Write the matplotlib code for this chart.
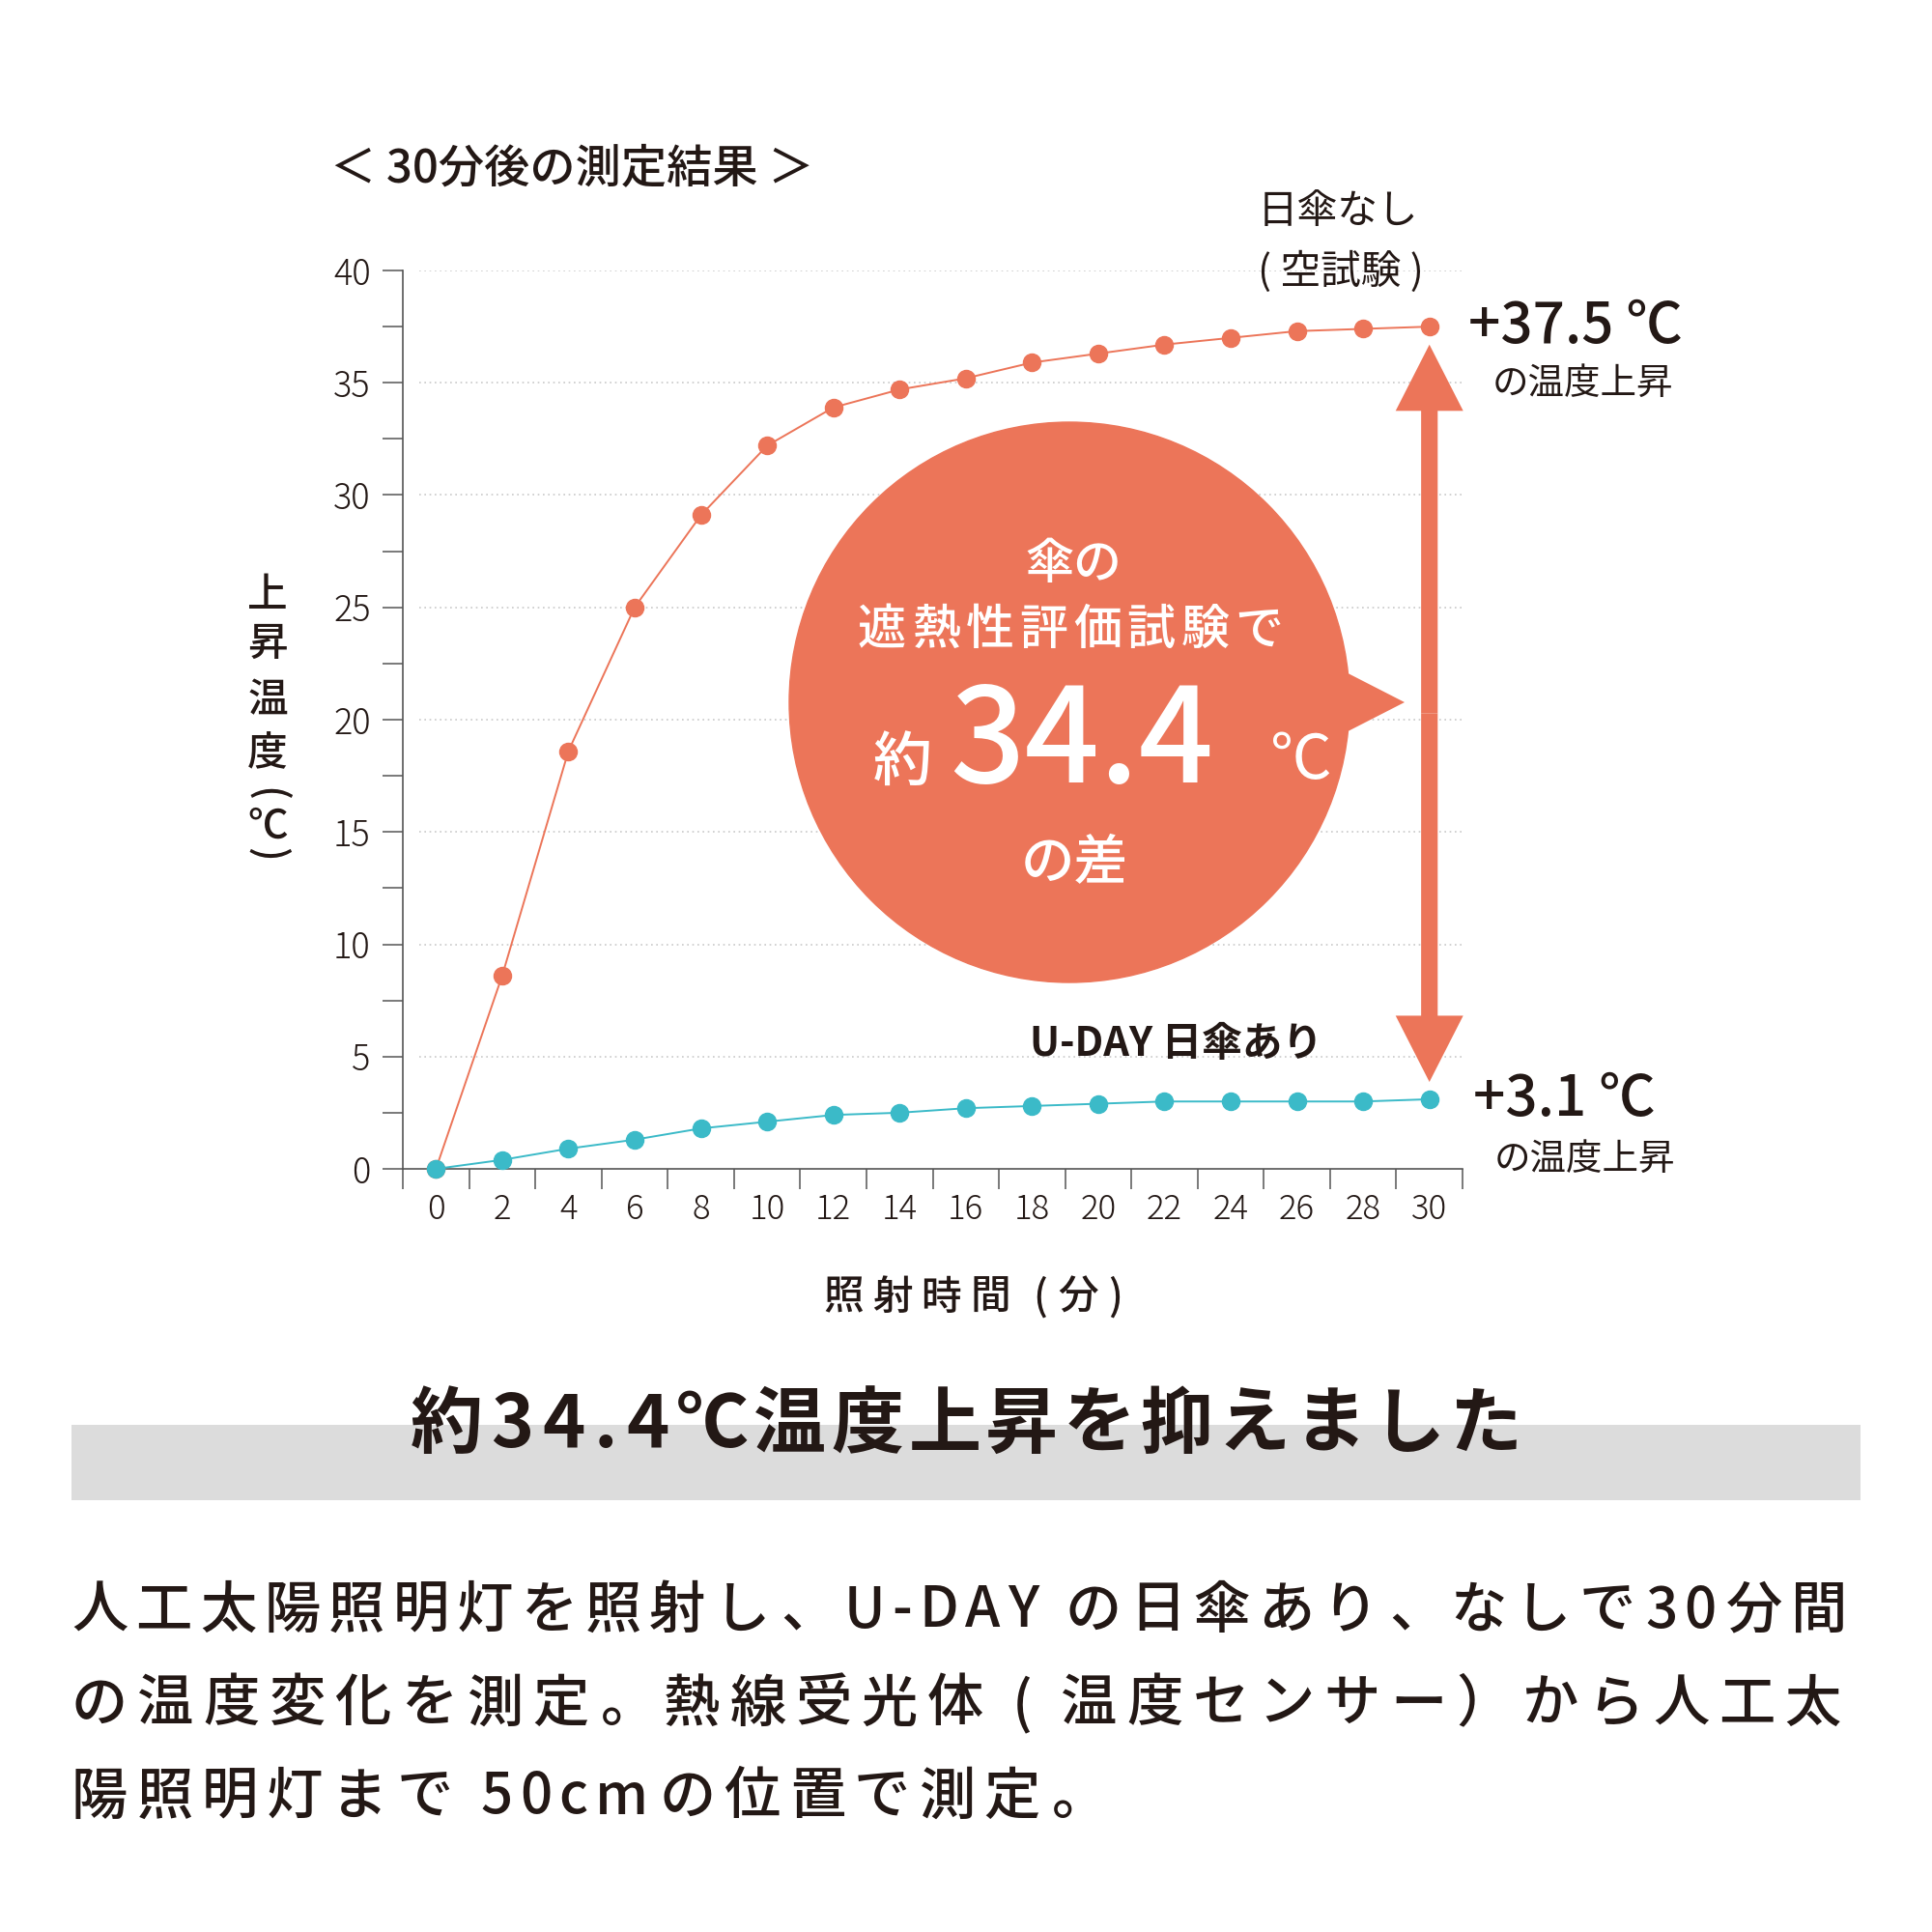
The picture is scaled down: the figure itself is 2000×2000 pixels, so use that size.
import numpy as np
import matplotlib
matplotlib.use("Agg")
import matplotlib.pyplot as plt
from matplotlib.patches import Circle, Polygon, FancyArrow, Rectangle

plt.rcParams['font.family'] = ['Noto Sans CJK JP', 'DejaVu Sans']

# Data
minutes = [0, 2, 4, 6, 8, 10, 12, 14, 16, 18, 20, 22, 24, 26, 28, 30]
no_umbrella = [0, 8.6, 18.6, 25.0, 29.1, 32.2, 33.9, 34.7, 35.2, 35.9,
               36.3, 36.7, 37.0, 37.3, 37.4, 37.5]
with_umbrella = [0, 0.4, 0.9, 1.3, 1.8, 2.1, 2.4, 2.5, 2.7, 2.8,
                 2.9, 3.0, 3.0, 3.0, 3.0, 3.1]
y_ticks = [0, 5, 10, 15, 20, 25, 30, 35, 40]
x_ticks = minutes

RED = "#EC7559"
TEAL = "#3BBAC8"
INK = "#231815"
AXIS = "#555555"

W = H = 2000
fig = plt.figure(figsize=(20, 20), dpi=100)
fig.patch.set_facecolor("white")


def fx(px):
    return px / W


def fy(py):
    return 1 - py / H


def is_wide(ch):
    return ord(ch) > 0x2000


def spaced(x0, y, s, size, track=0.0, width=None, align="left",
           ascii_k=0.3, color=INK, **kw):
    # place characters one by one so that letter spacing can be set
    r = fig.canvas.get_renderer()
    em = size * 100 / 72
    items = []
    for ch in s:
        if ch == " ":
            items.append((None, em * 0.25, ch))
            continue
        t = fig.text(0, fy(y), ch, fontsize=size, va="center",
                     ha="center" if is_wide(ch) else "left", color=color, **kw)
        if is_wide(ch):
            w = em
        else:
            w = t.get_window_extent(r).width + em * 0.08
        items.append((t, w, ch))
    # gap weights: narrower spacing between latin characters
    k = []
    for a, b in zip(s[:-1], s[1:]):
        k.append(ascii_k if not (is_wide(a) or is_wide(b)) else 1.0)
    tot = sum(w for _, w, _ in items)
    if width is not None:
        track = (width - tot) / sum(k)
    total = tot + track * sum(k)
    if align == "center":
        x0 = x0 - total / 2
    cx = x0
    for i, (t, w, ch) in enumerate(items):
        if t is not None:
            if is_wide(ch):
                if ch in "、。":
                    t.set_ha("left")
                    t.set_x(fx(cx + em * 0.05))
                else:
                    t.set_x(fx(cx + w / 2))
            else:
                t.set_x(fx(cx + em * 0.04))
        cx += w + (track * k[i] if i < len(k) else 0)
    return track


# Chart
ax = fig.add_axes([fx(417), fy(1210), (1514 - 417) / W, (1210 - 280) / H])
ax.set_xlim(-1, 31)
ax.set_ylim(0, 40)

ax.hlines(y_ticks[1:], -0.5, 31, colors="#c9c9c9", linestyles=(0, (1, 2.2)),
          lw=1.2, zorder=1)

ax.plot(minutes, no_umbrella, color=RED, lw=1.4, marker="o", ms=13,
        clip_on=False, zorder=3)
ax.plot(minutes, with_umbrella, color=TEAL, lw=1.4, marker="o", ms=13,
        clip_on=False, zorder=4)

for side in ["top", "right"]:
    ax.spines[side].set_visible(False)
for side in ["left", "bottom"]:
    ax.spines[side].set_color(AXIS)
    ax.spines[side].set_linewidth(1.2)

ax.set_xticks(x_ticks)
ax.set_xticks(range(-1, 32, 2), minor=True)
ax.set_yticks(y_ticks)
ax.set_yticks(np.arange(2.5, 40, 5), minor=True)
ax.tick_params(axis="x", which="major", length=0, pad=17, labelsize=25,
               labelcolor=INK)
ax.tick_params(axis="x", which="minor", length=15, width=1.1, color=AXIS)
ax.tick_params(axis="y", which="both", length=15, width=1.1, color=AXIS,
               pad=9, labelsize=26, labelcolor=INK)
for lab in ax.get_xticklabels() + ax.get_yticklabels():
    lab.set_fontweight("light")

# double arrow between final values
top = no_umbrella[-1] - 0.8
bot = with_umbrella[-1] + 0.77
mid = (top + bot) / 2
for tip in (top, bot):
    ax.add_patch(FancyArrow(minutes[-1], mid, 0, tip - mid, width=0.5,
                            head_width=2.04, head_length=2.95,
                            length_includes_head=True, color=RED, lw=0,
                            zorder=2, clip_on=False))

# speech bubble
ax.add_artist(Circle((fx(1107), fy(727)), 290 / W, transform=fig.transFigure,
                     color=RED, zorder=2, clip_on=False))
ax.add_artist(Polygon([(fx(1370), fy(684)), (fx(1454), fy(727)),
                       (fx(1370), fy(770))], closed=True,
                      transform=fig.transFigure, color=RED, zorder=2,
                      clip_on=False, lw=0))

WHITE = "white"
fig.text(fx(1111), fy(585), "傘の", fontsize=36, color=WHITE,
         ha="center", va="center", fontweight="medium")
spaced(1108, 653, "遮熱性評価試験で", 36, width=440, align="center",
       color=WHITE, fontweight="medium")
fig.text(fx(934), fy(790), "約", fontsize=44, color=WHITE,
         ha="center", va="center", fontweight="medium")
fig.text(fx(1120), fy(771), "34.4", fontsize=98, color=WHITE,
         ha="center", va="center", fontweight="medium")
fig.text(fx(1347), fy(788), "℃", fontsize=46, color=WHITE,
         ha="center", va="center")
fig.text(fx(1112), fy(894), "の差", fontsize=40, color=WHITE,
         ha="center", va="center", fontweight="medium")

# labels around the chart
fig.text(fx(342), fy(175), "＜ 30分後の測定結果 ＞", fontsize=34, color=INK,
         ha="left", va="center", fontweight="medium")
fig.text(fx(1385), fy(220), "日傘なし", fontsize=30, color=INK,
         ha="center", va="center")
fig.text(fx(1388), fy(281), "( 空試験 )", fontsize=30, color=INK,
         ha="center", va="center")
fig.text(fx(1520), fy(338), "+37.5 ℃", fontsize=42, color=INK,
         ha="left", va="center", fontweight="medium")
fig.text(fx(1638), fy(397), "の温度上昇", fontsize=27, color=INK,
         ha="center", va="center")
fig.text(fx(1218), fy(1081), "U-DAY 日傘あり", fontsize=30, color=INK,
         ha="center", va="center", fontweight="bold")
fig.text(fx(1525), fy(1139), "+3.1 ℃", fontsize=42, color=INK,
         ha="left", va="center", fontweight="medium")
fig.text(fx(1640), fy(1200), "の温度上昇", fontsize=27, color=INK,
         ha="center", va="center")

# vertical y label
ylab = [("上", 616, 0), ("昇", 666, 0), ("温", 725, 0), ("度", 780, 0),
        ("(", 822, -90), ("℃", 855, 0), (")", 884, -90)]
for ch, yy, rot in ylab:
    fig.text(fx(277), fy(yy), ch, fontsize=30, color=INK, ha="center",
             va="center", rotation=rot, rotation_mode="anchor",
             fontweight="medium")

spaced(1008, 1343, "照射時間 (分)", 30, width=312, align="center",
       fontweight="medium")

# headline band
fig.add_artist(Rectangle((fx(74), fy(1553)), (1926 - 74) / W, 78 / H,
                         transform=fig.transFigure, color="#DCDCDC", lw=0,
                         zorder=0))
spaced(1000, 1476, "約34.4℃温度上昇を抑えました", 54, width=1150,
       align="center", ascii_k=0.6, fontweight="bold")

# description
tr = spaced(74, 1668, "人工太陽照明灯を照射し、U-DAY の日傘あり、なしで30分間", 42,
            width=1838, fontweight="medium")
tr2 = spaced(74, 1765, "の温度変化を測定。熱線受光体 ( 温度センサー）から人工太", 42,
             width=1832, fontweight="medium")
spaced(74, 1861, "陽照明灯まで 50cmの位置で測定。", 42, track=(tr + tr2) / 2,
       fontweight="medium")

fig.savefig("out.png", dpi=100, facecolor="white")
